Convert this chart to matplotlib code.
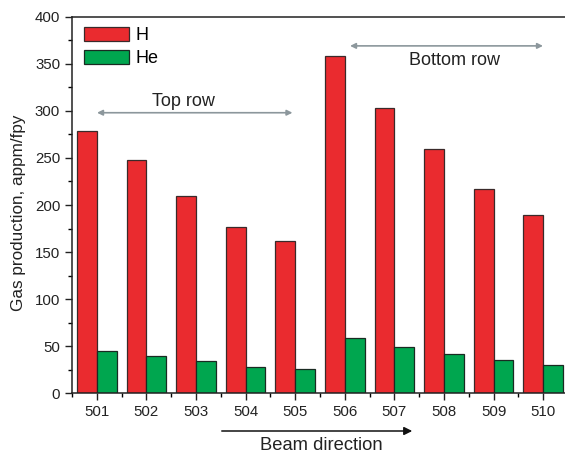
import matplotlib
matplotlib.use("Agg")
import matplotlib.pyplot as plt
import numpy as np
from matplotlib.ticker import MultipleLocator

plt.rcParams['font.family'] = ['Liberation Sans', 'DejaVu Sans']

positions = ["501", "502", "503", "504", "505", "506", "507", "508", "509", "510"]
h_vals = [279, 248, 210, 177, 162, 358, 303, 260, 217, 189]
he_vals = [45, 40, 34, 28, 26, 59, 49, 42, 35, 30]

x = np.arange(len(positions))
w = 0.4

fig = plt.figure(figsize=(5.65, 4.55), dpi=100)
ax = fig.add_axes([0.1274, 0.1356, 0.878, 0.8277])

ax.bar(x - w/2, h_vals, w, color="#ea2b2f", edgecolor="#3a2a2a", linewidth=0.9, label="H")
ax.bar(x + w/2, he_vals, w, color="#00a64f", edgecolor="#1a2a22", linewidth=0.9, label="He")

ax.set_xlim(-0.5, 9.5)
ax.set_ylim(0, 400)
ax.set_xticks(x)
ax.set_xticklabels(positions)
ax.xaxis.set_minor_locator(MultipleLocator(1, offset=0.5))
ax.yaxis.set_major_locator(MultipleLocator(50))
ax.yaxis.set_minor_locator(MultipleLocator(25))
ax.tick_params(axis="both", which="major", direction="out", length=5, width=1,
               labelsize=10.8, colors="#222222")
ax.tick_params(axis="both", which="minor", direction="out", length=3, width=1)
ax.spines["right"].set_visible(False)
for sp in ["left", "bottom", "top"]:
    ax.spines[sp].set_linewidth(1.1)
    ax.spines[sp].set_color("#222222")

ax.set_ylabel("Gas production, appm/fpy", fontsize=12.3, color="#222222")
ax.yaxis.set_label_coords(-0.092, 0.48)

ax.legend(loc="upper left", bbox_to_anchor=(12/495, 1 - 10/376.6), fontsize=13,
          frameon=False, handlelength=2.5, handleheight=0.85, borderaxespad=0,
          borderpad=0, labelspacing=0.3, handletextpad=0.35)

grey = "#8c979c"
ax.annotate("", xy=(-0.05, 298), xytext=(4.0, 298),
            arrowprops=dict(arrowstyle="<|-|>", color=grey, lw=1.2,
                            mutation_scale=8))
ax.text(1.74, 310, "Top row", ha="center", va="center", fontsize=13, color="#222222")
ax.annotate("", xy=(5.05, 369), xytext=(9.05, 369),
            arrowprops=dict(arrowstyle="<|-|>", color=grey, lw=1.2,
                            mutation_scale=8))
ax.text(7.21, 353, "Bottom row", ha="center", va="center", fontsize=13, color="#222222")

# beam direction arrow below the axis
ax.annotate("", xy=(415/565, 1 - 431/455), xytext=(219/565, 1 - 431/455),
            xycoords="figure fraction", textcoords="figure fraction",
            arrowprops=dict(arrowstyle="-|>", color="#111111", lw=1.1,
                            mutation_scale=12))
fig.text(321/565, 1 - 445/455, "Beam direction", ha="center", va="center",
         fontsize=13.2, color="#222222")

fig.savefig("out.png", dpi=100)
